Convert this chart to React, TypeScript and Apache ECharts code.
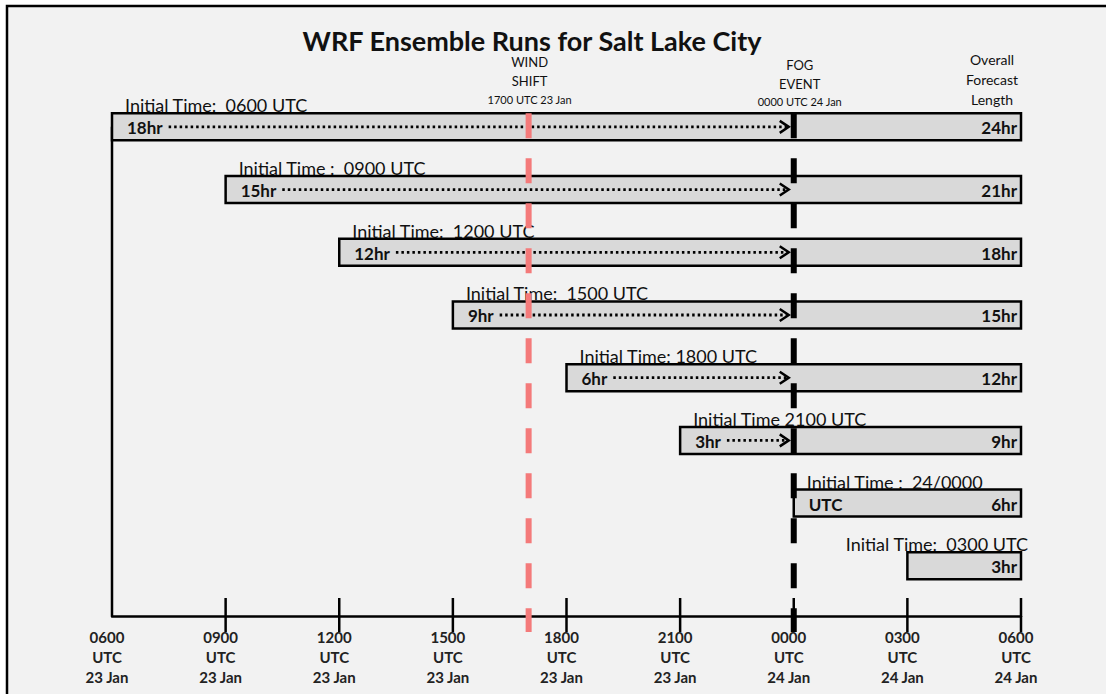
import React, { useEffect, useRef } from "react";
import * as echarts from "echarts";

const chartTitle = "WRF Ensemble Runs for Salt Lake City";
const initHours = [0, 3, 6, 9, 12, 15, 18, 21];
const forecastEndHour = 24;
const initLabels = [
  "Initial Time:  0600 UTC",
  "Initial Time :  0900 UTC",
  "Initial Time:  1200 UTC",
  "Initial Time:  1500 UTC",
  "Initial Time: 1800 UTC",
  "Initial Time 2100 UTC",
  "Initial Time :  24/0000",
  "Initial Time:  0300 UTC",
];
const leadToFogLabels = ["18hr", "15hr", "12hr", "9hr", "6hr", "3hr", "UTC", ""];
const totalLengthLabels = ["24hr", "21hr", "18hr", "15hr", "12hr", "9hr", "6hr", "3hr"];
const windShiftHour = 11;
const fogEventHour = 18;
const tickHours = [3, 6, 9, 12, 15, 18, 21, 24];
const tickLabels = [
  "0600\nUTC\n23 Jan",
  "0900\nUTC\n23 Jan",
  "1200\nUTC\n23 Jan",
  "1500\nUTC\n23 Jan",
  "1800\nUTC\n23 Jan",
  "2100\nUTC\n23 Jan",
  "0000\nUTC\n24 Jan",
  "0300\nUTC\n24 Jan",
  "0600\nUTC\n24 Jan",
];
const windShiftLabels = ["WIND", "SHIFT", "1700 UTC 23 Jan"];
const fogEventLabels = ["FOG", "EVENT", "0000 UTC 24 Jan"];
const overallLabels = ["Overall", "Forecast", "Length"];

const Y_MIN = -0.5;
const Y_MAX = 7.8;
const BAR_H = 27;
const FONT = "Lato, 'Open Sans', sans-serif";

let measureCtx: CanvasRenderingContext2D | null = null;
function measure(text: string, font: string): number {
  if (!measureCtx) {
    const c = document.createElement("canvas");
    measureCtx = c.getContext("2d");
  }
  if (!measureCtx) return text.length * 9;
  measureCtx.font = font;
  return measureCtx.measureText(text).width;
}

function eventLine(color: string, labels: string[], dx: number, offs: number[]) {
  return (params: any, api: any) => {
    const h = api.value(0);
    const [x, yc0] = api.coord([h, 0]);
    const top = yc0 - BAR_H / 2;
    const bottom = api.coord([h, Y_MAX])[1] + 16;
    return {
      type: "group",
      children: [
        {
          type: "line",
          shape: { x1: x, y1: top, x2: x, y2: bottom },
          style: { stroke: color, lineWidth: 6, lineDash: [25, 20] },
        },
        {
          type: "text",
          style: { text: labels[0], x: x + dx, y: top - offs[0], align: "center", verticalAlign: "middle", font: `13px ${FONT}`, fill: "#111" },
        },
        {
          type: "text",
          style: { text: labels[1], x: x + dx, y: top - offs[1], align: "center", verticalAlign: "middle", font: `13px ${FONT}`, fill: "#111" },
        },
        {
          type: "text",
          style: { text: labels[2], x: x + dx, y: top - offs[2], align: "center", verticalAlign: "middle", font: `11px ${FONT}`, fill: "#111" },
        },
      ],
    };
  };
}

export default function App() {
  const ref = useRef<HTMLDivElement>(null);
  useEffect(() => {
    if (!ref.current) return;
    const chart = echarts.init(ref.current, undefined, { renderer: "svg" });
    const barData = initHours.map((h, i) => [i, h, forecastEndHour]);
    chart.setOption({
      animation: false,
      backgroundColor: "#ffffff",
      graphic: [
        {
          type: "rect",
          z: -10,
          silent: true,
          shape: { x: 7, y: 6, width: 1130, height: 720 },
          style: { fill: "#f2f2f2", stroke: "#000", lineWidth: 2.5 },
        },
        {
          type: "text",
          z: 10,
          x: 532,
          y: 40,
          style: { text: chartTitle, align: "center", verticalAlign: "middle", font: `bold 27px ${FONT}`, fill: "#111" },
        },
      ],
      grid: { left: 112, right: 85, top: 95.5, bottom: 78 },
      xAxis: {
        type: "value",
        min: 0,
        max: 24,
        interval: 3,
        splitLine: { show: false },
        axisTick: { show: false },
        axisLine: { show: true, onZero: false, lineStyle: { color: "#000", width: 2.5 } },
        axisLabel: {
          formatter: (v: number) => tickLabels[Math.round(v / 3)],
          fontFamily: FONT,
          fontWeight: "bold",
          fontSize: 15,
          lineHeight: 20,
          color: "#222",
          margin: 11,
          padding: [0, 10, 0, 0],
          showMinLabel: true,
          showMaxLabel: true,
        },
      },
      yAxis: { type: "value", inverse: true, min: Y_MIN, max: Y_MAX, show: false },
      series: [
        {
          type: "line",
          z: 1,
          symbol: "none",
          data: [
            [initHours[0], 0],
            [initHours[0], Y_MAX],
          ],
          lineStyle: { color: "#000", width: 2.5 },
        },
        {
          type: "custom",
          z: 1,
          data: tickHours.map((h) => [h]),
          renderItem: (params: any, api: any) => {
            const [x, y] = api.coord([api.value(0), Y_MAX]);
            return {
              type: "line",
              shape: { x1: x, y1: y - 18, x2: x, y2: y + 16 },
              style: { stroke: "#000", lineWidth: 2.5 },
            };
          },
        },
        {
          type: "custom",
          z: 2,
          data: barData,
          encode: { x: [1, 2], y: 0 },
          renderItem: (params: any, api: any) => {
            const row = api.value(0);
            const start = api.value(1);
            const end = api.value(2);
            const [x0, yc] = api.coord([start, row]);
            const [x1] = api.coord([end, row]);
            const [xf] = api.coord([fogEventHour, row]);
            const top = yc - BAR_H / 2;
            const narrow = x1 - x0 < 200;
            const innerFont = `bold 17px ${FONT}`;
            const lead = leadToFogLabels[row];
            const children: any[] = [
              {
                type: "rect",
                shape: { x: x0, y: top, width: x1 - x0, height: BAR_H },
                style: { fill: "#d9d9d9", stroke: "#000", lineWidth: 2.5 },
              },
              {
                type: "text",
                style: {
                  text: initLabels[row],
                  x: narrow ? x1 + 7 : x0 + 13,
                  y: top - 8,
                  align: narrow ? "right" : "left",
                  verticalAlign: "middle",
                  font: `18px ${FONT}`,
                  fill: "#111",
                },
              },
              {
                type: "text",
                style: { text: lead, x: x0 + 15, y: yc + 1, align: "left", verticalAlign: "middle", font: innerFont, fill: "#111" },
              },
              {
                type: "text",
                style: { text: totalLengthLabels[row], x: x1 - 4, y: yc + 1, align: "right", verticalAlign: "middle", font: innerFont, fill: "#111" },
              },
            ];
            if (start < fogEventHour) {
              const ax0 = x0 + 15 + measure(lead, innerFont) + 6;
              const ax1 = xf - 5;
              children.push({
                type: "line",
                shape: { x1: ax0, y1: yc, x2: ax1 - 2, y2: yc },
                style: { stroke: "#000", lineWidth: 2.8, lineDash: [2.5, 3] },
              });
              children.push({
                type: "polyline",
                shape: { points: [[ax1 - 9, yc - 6], [ax1, yc], [ax1 - 9, yc + 6]] },
                style: { stroke: "#000", lineWidth: 2.5, fill: null },
              });
            }
            return { type: "group", children };
          },
        },
        {
          type: "custom",
          z: 3,
          data: [[windShiftHour]],
          renderItem: eventLine("#f47a7a", windShiftLabels, 1, [51, 32, 14]),
        },
        {
          type: "custom",
          z: 3,
          data: [[fogEventHour]],
          renderItem: eventLine("#000000", fogEventLabels, 6, [48, 29.5, 11.5]),
        },
        {
          type: "custom",
          z: 3,
          data: [[forecastEndHour]],
          renderItem: (params: any, api: any) => {
            const [x, yc0] = api.coord([api.value(0), 0]);
            const top = yc0 - BAR_H / 2;
            const offs = [54, 34, 14];
            return {
              type: "group",
              children: overallLabels.map((t, k) => ({
                type: "text",
                style: { text: t, x: x - 29, y: top - offs[k], align: "center", verticalAlign: "middle", font: `14px ${FONT}`, fill: "#111" },
              })),
            };
          },
        },
      ],
    });
    return () => chart.dispose();
  }, []);
  return (
    <div
      ref={ref}
      style={{ position: "fixed", left: 0, top: 0, width: 1106, height: 694 }}
    />
  );
}
